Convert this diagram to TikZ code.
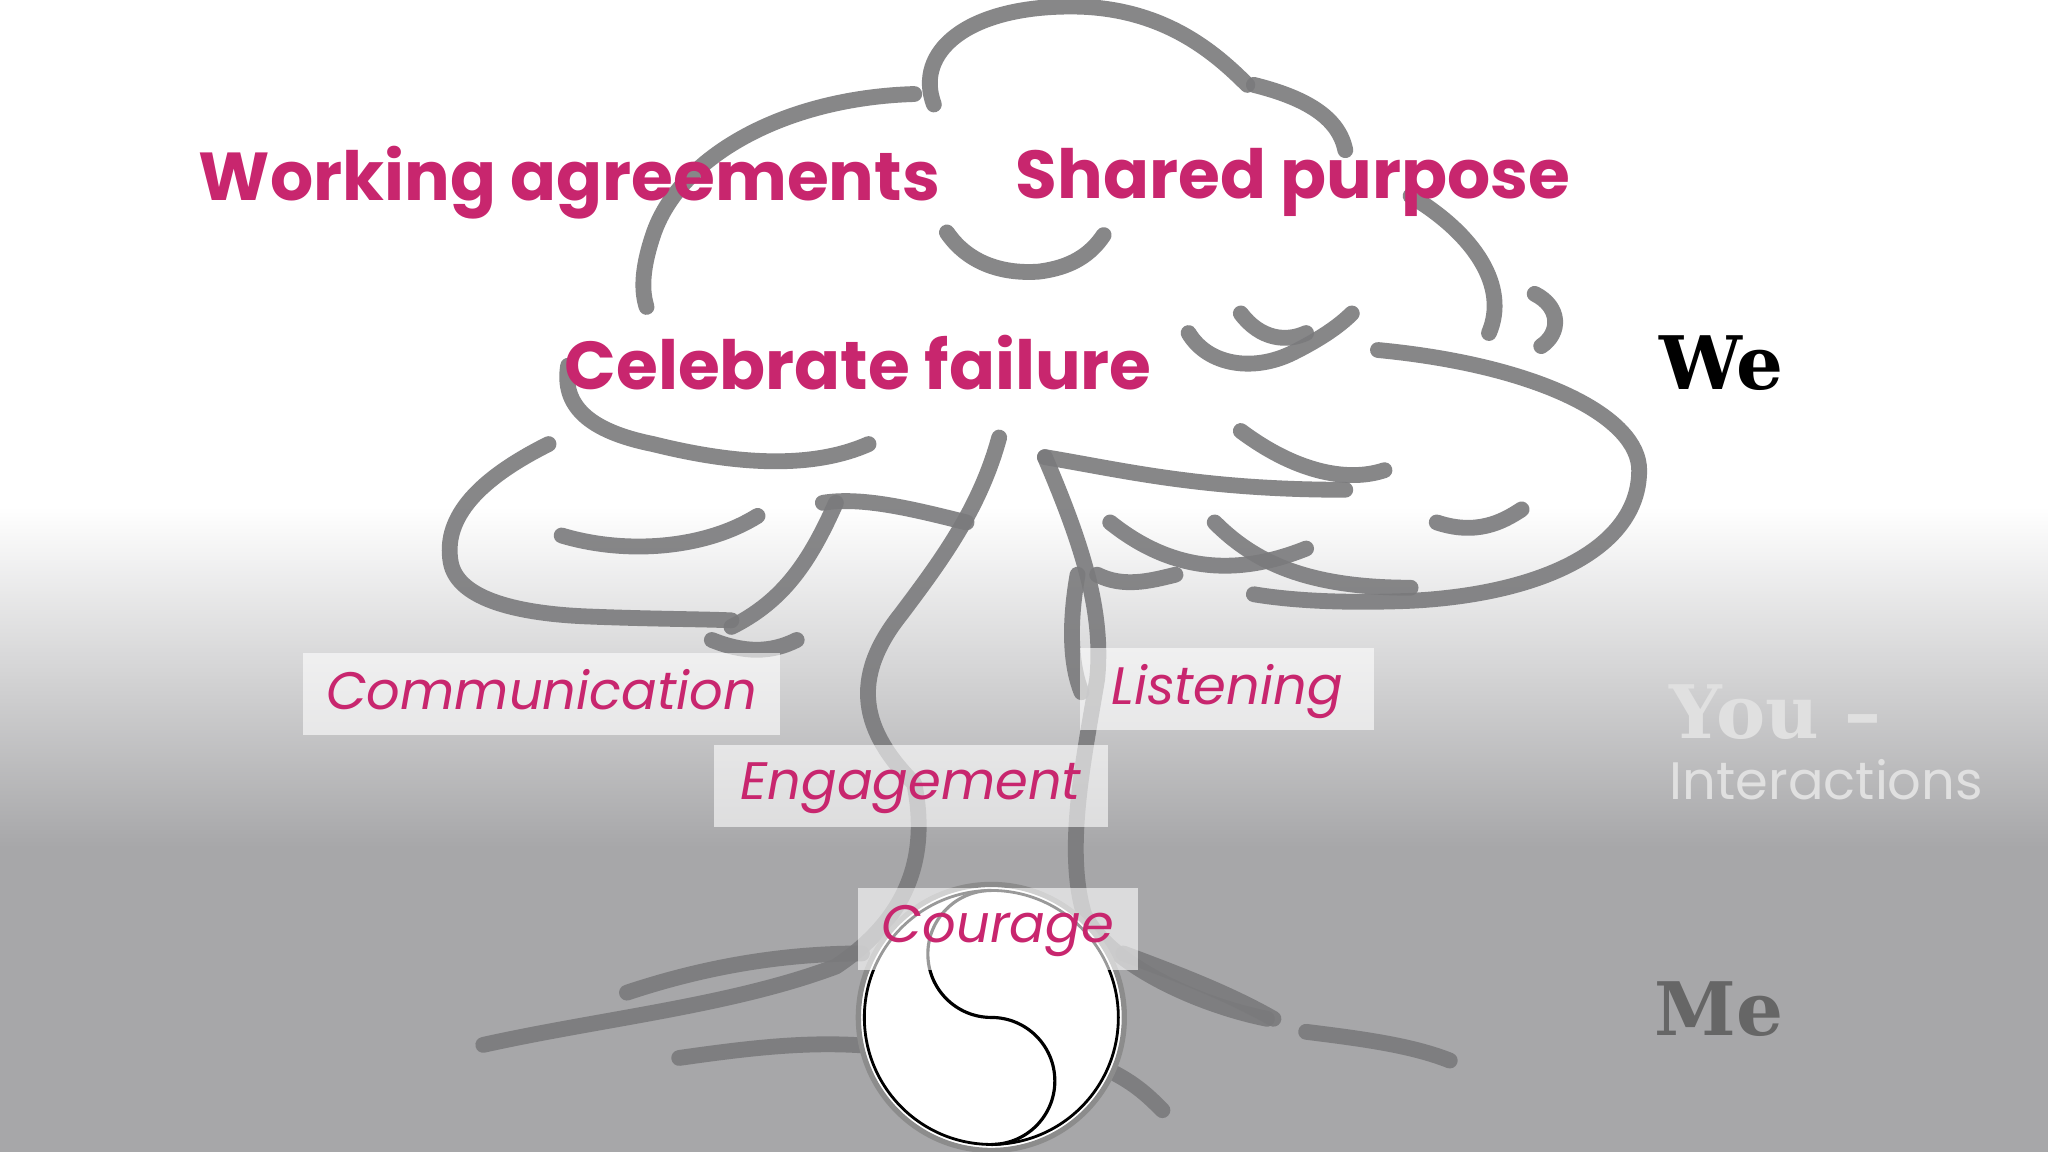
\documentclass[tikz,border=0pt]{standalone}
\usepackage{fontspec}
\setmainfont{Poppins}
\newfontfamily\slabfont{DejaVu Serif}
\usetikzlibrary{calc}
\definecolor{mag}{HTML}{C8266E}
\definecolor{treegray}{HTML}{7A7A7C}
\definecolor{bggray}{HTML}{A7A7A9}
\tikzset{
  treeline/.style={draw=treegray,line width=4.5pt,line cap=round,line join=round,opacity=0.9},
  bigtxt/.style={text=mag,font=\bfseries\fontsize{19.3}{23}\selectfont},
  boxtxt/.style={text=mag,font=\itshape\fontsize{15}{18}\selectfont,fill=white,fill opacity=0.6,text opacity=1,inner sep=0pt},
}
\begin{document}
\begin{tikzpicture}
\useasboundingbox (0,0) rectangle (20.48,11.52);
\fill[white] (0,0) rectangle (20.48,11.52);
\fill[bggray] (0,0) rectangle (20.48,3.05);
\shade[top color=white,bottom color=bggray] (0,3.05) rectangle (20.48,6.45);
\begin{scope}[shift={(0,11.52)},x=0.01306cm,y=-0.01306cm]
% crown
\draw[treeline] (715,80) .. controls (700,40) and (740,5) .. (820,5) .. controls (890,5) and (930,40) .. (955,65);
\draw[treeline] (700,72) .. controls (600,75) and (520,120) .. (500,180) .. controls (490,210) and (492,225) .. (495,235);
\draw[treeline] (960,65) .. controls (1000,75) and (1025,90) .. (1030,115);
\draw[treeline] (1080,150) .. controls (1130,180) and (1155,220) .. (1140,255);
\draw[treeline] (1175,225) .. controls (1195,235) and (1195,255) .. (1180,265);
\draw[treeline] (1055,268) .. controls (1180,280) and (1255,320) .. (1255,360) .. controls (1255,420) and (1180,455) .. (1080,460) .. controls (1030,462) and (990,460) .. (960,455);
\draw[treeline] (420,340) .. controls (360,370) and (340,400) .. (345,430) .. controls (350,460) and (400,470) .. (450,472) .. controls (500,474) and (540,474) .. (560,475);
\draw[treeline] (435,280) .. controls (430,310) and (450,330) .. (500,340) .. controls (560,355) and (620,360) .. (665,340);
\draw[treeline] (910,255) .. controls (925,280) and (960,285) .. (990,270) .. controls (1010,260) and (1025,250) .. (1035,240);
\draw[treeline] (725,178) .. controls (740,200) and (765,210) .. (795,208) .. controls (820,205) and (835,195) .. (845,180);
\draw[treeline] (950,240) .. controls (965,260) and (985,262) .. (1000,255);
\draw[treeline] (800,350) .. controls (860,360) and (920,375) .. (1030,375);
\draw[treeline] (950,330) .. controls (990,360) and (1030,370) .. (1060,360);
% trunk
\draw[treeline] (765,335) .. controls (750,390) and (720,430) .. (690,470) .. controls (650,520) and (660,560) .. (700,600) .. controls (710,650) and (700,700) .. (640,740) .. controls (560,770) and (460,780) .. (370,800);
\draw[treeline] (800,350) .. controls (830,420) and (845,470) .. (840,520) .. controls (830,580) and (815,650) .. (830,700) .. controls (850,740) and (920,770) .. (970,780);
\draw[treeline] (740,400) .. controls (700,390) and (660,380) .. (630,385);
% branches
\draw[treeline] (580,395) .. controls (540,420) and (480,425) .. (430,410);
\draw[treeline] (640,385) .. controls (620,430) and (600,460) .. (560,480);
\draw[treeline] (850,400) .. controls (900,440) and (950,440) .. (1000,420);
\draw[treeline] (930,400) .. controls (960,430) and (1000,450) .. (1080,450);
\draw[treeline] (1100,400) .. controls (1130,410) and (1150,400) .. (1165,390);
\draw[treeline] (840,440) .. controls (860,450) and (880,445) .. (900,440);
\draw[treeline] (610,490) .. controls (590,500) and (570,500) .. (545,490);
\draw[treeline] (825,440) .. controls (818,480) and (820,510) .. (828,530);
% roots
\draw[treeline] (480,760) .. controls (540,740) and (600,730) .. (660,730);
\draw[treeline] (520,810) .. controls (590,800) and (640,795) .. (700,805);
\draw[treeline] (860,730) .. controls (900,745) and (940,760) .. (975,780);
\draw[treeline] (1000,790) .. controls (1040,795) and (1080,800) .. (1110,812);
\draw[treeline] (850,820) .. controls (870,830) and (880,840) .. (890,850);
% labels
\node[bigtxt] (wa) at (436,140) {Working agreements};
\node[bigtxt] (sp) at (990,140) {Shared purpose};
\node[bigtxt] (cf) at (657,278) {Celebrate failure};
\node[font=\slabfont\bfseries\fontsize{21}{24}\selectfont] (we) at (1318,278) {We};
\node[anchor=west,text=black!12,font=\slabfont\bfseries\fontsize{21}{24}\selectfont,inner sep=0pt] (you) at (1278,545) {You –};
\node[anchor=west,text=black!12,font=\fontsize{15}{18}\selectfont,inner sep=0pt] (int) at (1278,597) {Interactions};
\node[text=black!60,font=\slabfont\bfseries\fontsize{21}{24}\selectfont] (me) at (1316,773) {Me};
% boxes
\node[boxtxt,minimum width=4.77cm,minimum height=0.82cm,text depth=0.1cm] (com) at (414.5,531.5) {Communication};
\node[boxtxt,minimum width=2.94cm,minimum height=0.82cm,text depth=0.1cm] (lis) at (939.5,527.5) {Listening};
\node[boxtxt,minimum width=3.94cm,minimum height=0.82cm,text depth=0.1cm] (eng) at (697.5,601.5) {Engagement};
% circle
\coordinate (cc) at (759,779);
\end{scope}
\draw[black!45,line width=1.5pt,fill=white] (cc) circle (1.33);
\draw[black,line width=0.8pt] (cc) circle (1.27);
\draw[black,line width=0.9pt] ($(cc)+(0,1.27)$) arc (90:270:0.635) arc (90:-90:0.635);
\begin{scope}[shift={(0,11.52)},x=0.01306cm,y=-0.01306cm]
\node[boxtxt,minimum width=2.8cm,minimum height=0.82cm,text depth=0.1cm] (cou) at (764,711.5) {Courage};
\end{scope}
\end{tikzpicture}
\end{document}
